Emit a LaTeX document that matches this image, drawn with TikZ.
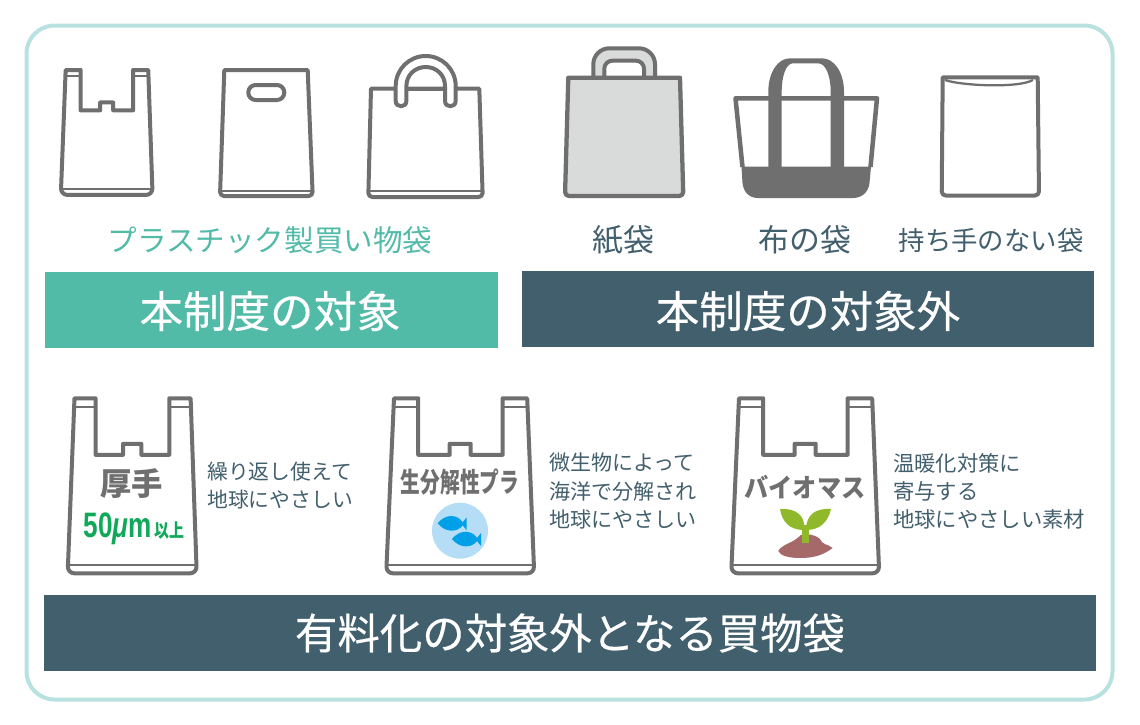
\documentclass[tikz,border=0pt]{standalone}
\usepackage{fontspec}
\setmainfont{Noto Sans CJK JP}
\newfontfamily\latinfont{Liberation Sans}
\newfontfamily\headfont[FakeBold=0.35]{Noto Sans CJK JP}
\usetikzlibrary{calc}
\definecolor{framecol}{HTML}{B9E1E0}
\definecolor{tealcol}{HTML}{52BBA8}
\definecolor{slatecol}{HTML}{425F6D}
\definecolor{bagcol}{HTML}{6F6F6F}
\definecolor{papercol}{HTML}{D9DBDB}
\definecolor{greencol}{HTML}{10A85A}
\definecolor{watercol}{HTML}{B5DDF5}
\definecolor{fishcol}{HTML}{00A0E9}
\definecolor{leafcol}{HTML}{8FB82A}
\definecolor{soilcol}{HTML}{A5696A}
\newcommand{\pxfont}[1]{\fontsize{#1}{#1}\selectfont}
\tikzset{
  bagline/.style={draw=bagcol, line width=3pt, line join=round},
  thinline/.style={draw=bagcol, line width=1.7pt},
  banner/.style={anchor=center, text=white, font=\headfont\pxfont{32.6}},
  itemlabel/.style={anchor=center, text=slatecol, font=\pxfont{23.2}},
  sidenote/.style={anchor=north west, align=left, text=slatecol, inner sep=0pt, font=\fontsize{15.8}{21.1}\selectfont},
  bagtext/.style={anchor=center, text=bagcol, inner sep=0pt}
}
% bag with handles: centre x, top y, xscale, yscale
\newcommand{\shopbag}[4]{
  \begin{scope}[shift={(#1,#2)}, xscale=#3, yscale=#4]
    \draw[bagline, fill=white]
      (-66.2, 0) -- (-42, 0) -- (-42, 56.5) -- (-10.5, 56.5) -- (-10.5, 45.5)
      -- (10.5, 45.5) -- (10.5, 56.5) -- (42.5, 56.5) -- (42.5, 0) -- (67, 0)
      [rounded corners=5pt] -- (74, 175) -- (-74, 175) [sharp corners] -- cycle;
    \draw[thinline]
      (-66, 8.4) -- (-42, 8.4)
      (42.5, 8.4) -- (67, 8.4)
      (-73.5, 167) -- (73.5, 167);
  \end{scope}
}
\begin{document}
\begin{tikzpicture}[x=0.75pt, y=-0.75pt]
    \useasboundingbox (0, 0) rectangle (1140, 725);
    \fill[white] (0, 0) rectangle (1140, 725);
    \draw[draw=framecol, line width=3pt, rounded corners=21pt] (26.5, 25.5) rectangle (1112.5, 699.5);

    % top row
    \shopbag{106.7}{70}{0.62}{0.714}

    \draw[bagline]
      (224.3, 70) -- (307.7, 70) [rounded corners=3pt] -- (312.7, 196) -- (220, 196) [sharp corners] -- cycle;
    \draw[thinline] (220.5, 190.7) -- (312.2, 190.7);
    \draw[bagline, rounded corners=5.5pt] (248.3, 85) rectangle (284.3, 100);

    \draw[bagline]
      (371, 88.7) -- (479.3, 88.7) [rounded corners=3pt] -- (482.7, 197) -- (368.3, 197) [sharp corners] -- cycle;
    \draw[thinline] (369, 190.7) -- (482, 190.7);
    \draw[bagline, fill=white]
      (395.7, 101) -- (395.7, 86) .. controls (395.7, 69.4) and (409.1, 56) .. (425.7, 56)
      .. controls (442.3, 56) and (455.7, 69.4) .. (455.7, 86) -- (455.7, 101)
      .. controls (455.7, 108) and (445, 108) .. (445, 101) -- (445, 86)
      .. controls (445, 75) and (436.5, 67) .. (425.7, 67)
      .. controls (415, 67) and (406.4, 75) .. (406.4, 86) -- (406.4, 101)
      .. controls (406.4, 108) and (395.7, 108) .. (395.7, 101) -- cycle;
    \draw[bagline] (406.4, 88.7) -- (445, 88.7);

    \draw[bagline, line width=3pt, fill=papercol, rounded corners=12pt]
      (593.3, 78) -- (593.3, 48.3) -- (655, 48.3) -- (655, 78);
    \draw[bagline, line width=3pt, fill=white, rounded corners=6pt]
      (604.3, 78) -- (604.3, 60.7) -- (644, 60.7) -- (644, 78);
    \draw[bagline, line width=3.2pt, fill=papercol]
      (568.3, 77.7) -- (680, 77.7) [rounded corners=3pt] -- (683.3, 196) -- (565, 196) [sharp corners] -- cycle;

    \draw[bagline, line width=3.4pt] (742.5, 167) -- (735.5, 98.3) -- (877, 98.3) -- (870.5, 167);
    \fill[bagcol]
      (741.5, 166.5) -- (871, 166.5) -- (869.5, 183)
      .. controls (868.5, 192) and (862, 198) .. (853, 198) -- (758, 198)
      .. controls (749, 198) and (743.5, 192) .. (742.5, 183) -- cycle;
    \fill[bagcol]
      (768.3, 170) -- (768.3, 92) .. controls (768.3, 72) and (778, 58.3) .. (790, 58.3)
      -- (822, 58.3) .. controls (834, 58.3) and (844, 72) .. (844, 92) -- (844, 170)
      -- (830.7, 170) -- (830.7, 92) .. controls (830.7, 76) and (826, 63.3) .. (818, 63.3)
      -- (793, 63.3) .. controls (786, 63.3) and (781.7, 76) .. (781.7, 92) -- (781.7, 170) -- cycle;

    \draw[bagline]
      (942.7, 77.3) -- (1037.7, 77.3) [rounded corners=3pt] -- (1039, 195.5) -- (941.7, 195.5) [sharp corners] -- cycle;
    \draw[thinline] (945, 80) .. controls (960, 85.5) and (1018, 88.5) .. (1033, 80);

    \node[itemlabel, text=tealcol, font=\pxfont{22.2}] (planlabel) at (270, 240) {プラスチック製買い物袋};
    \node[itemlabel] (paperlabel) at (623, 240) {紙袋};
    \node[itemlabel] (clothlabel) at (805, 240) {布の袋};
    \node[itemlabel, font=\pxfont{19.8}] (flatlabel) at (991, 240) {持ち手のない袋};

    \fill[tealcol] (45, 272) rectangle (497.5, 348);
    \fill[slatecol] (522, 271) rectangle (1094, 347);
    \node[banner] (targethead) at (270, 311) {本制度の対象};
    \node[banner] (exempthead) at (808, 311) {本制度の対象外};

    % bottom row
    \shopbag{132.2}{398.3}{0.872}{1}
    \shopbag{460.2}{398.3}{1}{1}
    \shopbag{805.2}{398.3}{1}{1}

    \node[bagtext, font=\bfseries\pxfont{23.5}] (thicktext) at (131.7, 484) {厚手};
    \node[bagtext, text=greencol] (micron) at (134, 529)
      {\scalebox{0.74}[1]{\latinfont\bfseries\pxfont{26.5}50{\itshape μ}m}\hspace{2pt}\scalebox{0.8}[1]{\bfseries\pxfont{14}以上}};
    \node[bagtext] (biotext) at (460, 482) {\scalebox{0.72}[1]{\bfseries\pxfont{20.5}生分解性プラ}};
    \node[bagtext] (masstext) at (805, 487) {\scalebox{0.93}[1]{\bfseries\pxfont{19.5}バイオマス}};

    \fill[watercol] (460, 530.7) circle [radius=28];
    \foreach \fx/\fy in {451.7/523.3, 466/539}{
      \fill[fishcol]
        (\fx-14, \fy) .. controls (\fx-6, \fy-10) and (\fx+6, \fy-9) .. (\fx+11, \fy-1)
        -- (\fx+15, \fy-6) -- (\fx+15, \fy+7) -- (\fx+11, \fy+2)
        .. controls (\fx+6, \fy+9) and (\fx-6, \fy+10) .. (\fx-14, \fy) -- cycle;
    }

    \fill[soilcol]
      (778.3, 551) .. controls (782, 544) and (792, 544) .. (801, 535)
      .. controls (808, 534) and (814, 534) .. (820, 539)
      .. controls (822, 545) and (828, 544) .. (832.7, 548)
      .. controls (822, 556) and (812, 558) .. (800, 558)
      .. controls (790, 558) and (780, 556) .. (778.3, 551) -- cycle;
    \fill[leafcol]
      (780, 509) .. controls (795, 508) and (806, 515) .. (804, 530)
      .. controls (790, 530) and (782, 522) .. (780, 509) -- cycle;
    \fill[leafcol]
      (831, 509) .. controls (815, 508) and (806, 515) .. (806, 530)
      .. controls (820, 530) and (828, 522) .. (831, 509) -- cycle;
    \fill[leafcol] (801.7, 525) rectangle (809.3, 543.3);

    \node[sidenote, font=\fontsize{15.6}{21.1}\selectfont] (thicknote) at (207, 462) {繰り返し使えて\\地球にやさしい};
    \node[sidenote] (bionote) at (549, 453) {微生物によって\\海洋で分解され\\地球にやさしい};
    \node[sidenote, font=\fontsize{16}{21.1}\selectfont] (massnote) at (893, 453) {温暖化対策に\\寄与する\\地球にやさしい素材};

    \fill[slatecol] (44, 595) rectangle (1096, 671);
    \node[banner, font=\headfont\pxfont{31.8}] (bottomhead) at (570, 633) {有料化の対象外となる買物袋};
\end{tikzpicture}
\end{document}
